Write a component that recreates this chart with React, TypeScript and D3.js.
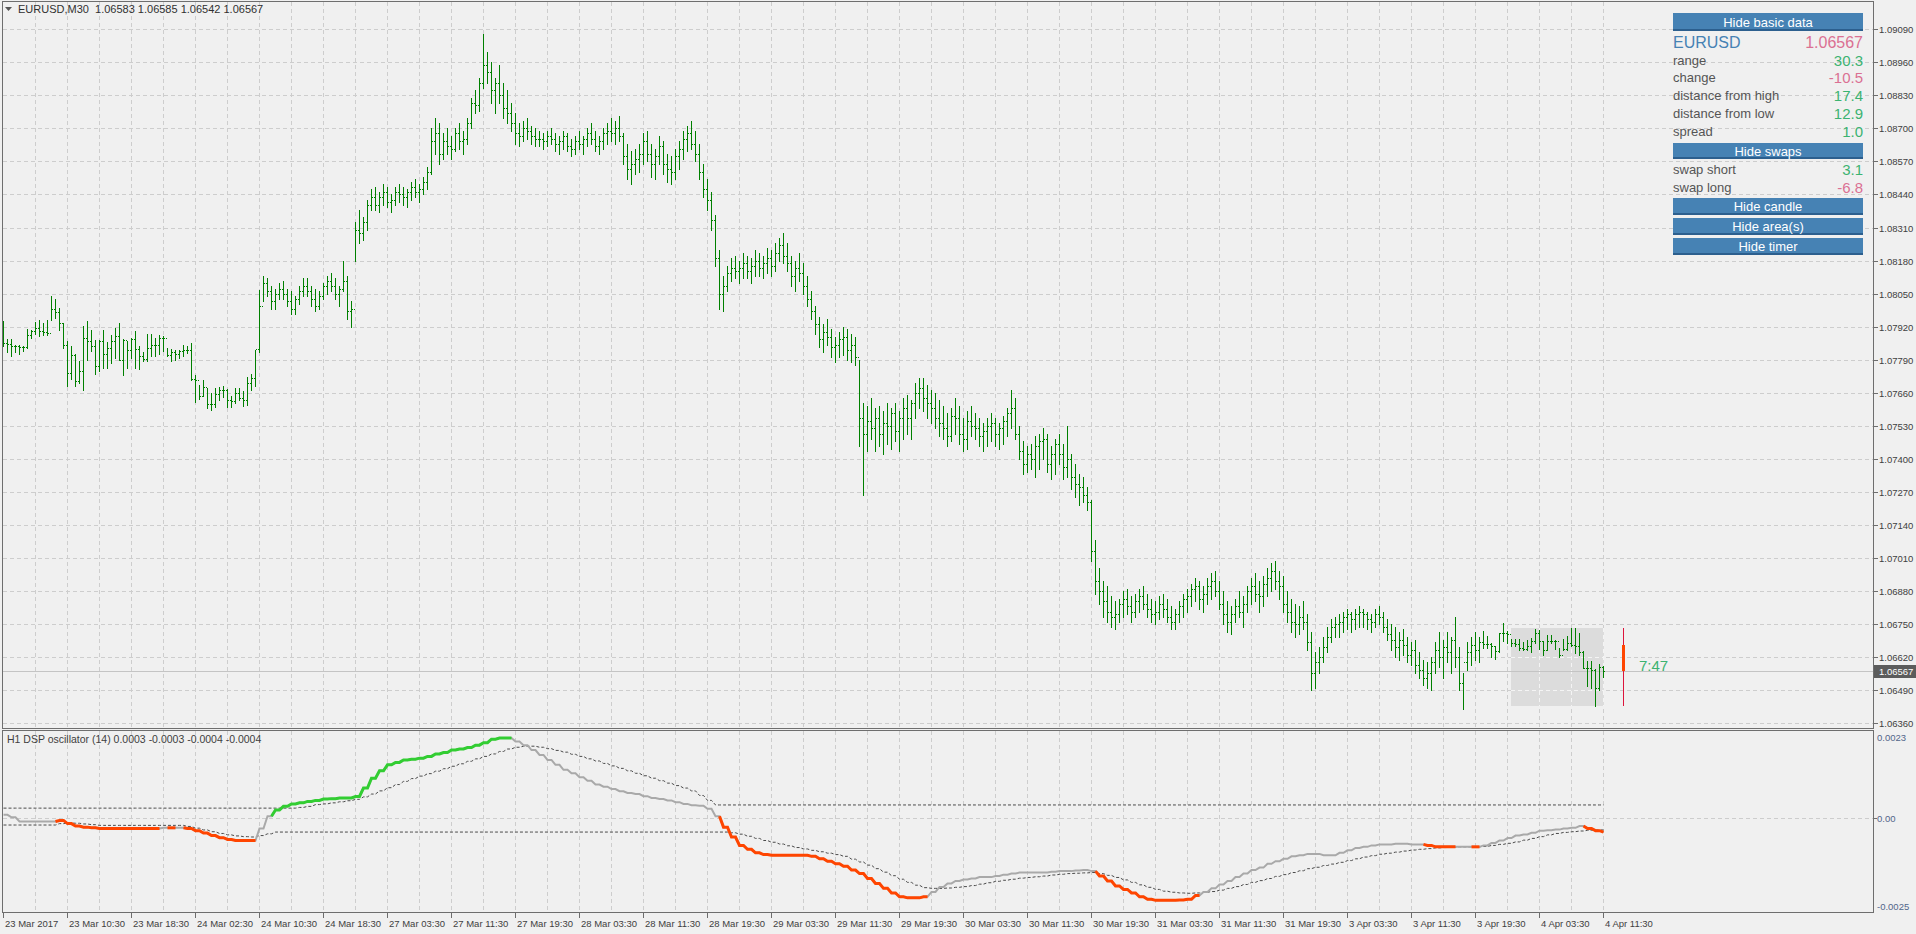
import React from 'react';
import * as d3 from 'd3';

// ---------- DATA ----------
// main chart: EURUSD M30 bars, values in points above 1.06000 (price = 1.06 + v / 100000)
const BASE = 1.06;
const FIRST_OPEN = 1870;
const HIGH = [
  1944,1872,1872,1850,1850,1846,1911,1908,1937,1945,1935,1948,2042,2029,1994,1935,
  1865,1843,1814,1784,1924,1944,1908,1867,1869,1906,1859,1889,1915,1935,1872,1863,
  1876,1902,1843,1819,1893,1891,1876,1889,1885,1836,1833,1827,1830,1850,1843,1856,
  1732,1692,1712,1679,1660,1679,1683,1686,1675,1646,1679,1679,1666,1722,1736,1830,
  2066,2120,2110,2080,2070,2090,2100,2070,2060,2040,2080,2110,2110,2080,2070,2060,
  2090,2120,2130,2110,2080,2180,2120,2020,2330,2380,2350,2420,2460,2470,2450,2480,
  2470,2440,2470,2480,2470,2460,2490,2500,2480,2510,2550,2700,2740,2720,2680,2700,
  2670,2700,2720,2690,2740,2820,2850,2900,3070,3000,2960,2900,2950,2880,2850,2800,
  2760,2720,2730,2740,2710,2700,2690,2680,2690,2700,2680,2670,2690,2680,2660,2670,
  2690,2670,2700,2720,2690,2670,2700,2720,2740,2730,2750,2680,2640,2610,2620,2640,
  2680,2690,2640,2620,2670,2650,2600,2590,2620,2650,2690,2710,2730,2690,2640,2560,
  2500,2450,2360,2220,2120,2160,2190,2200,2180,2210,2200,2190,2220,2210,2200,2230,
  2220,2250,2270,2290,2250,2200,2180,2210,2170,2120,2060,2000,1960,1930,1950,1910,
  1880,1900,1920,1910,1890,1880,1790,1620,1610,1640,1600,1610,1590,1620,1600,1620,
  1590,1640,1650,1630,1700,1720,1720,1690,1670,1660,1630,1610,1580,1600,1640,1610,
  1560,1590,1610,1580,1560,1540,1560,1580,1560,1540,1570,1600,1670,1640,1530,1470,
  1450,1460,1490,1500,1520,1500,1450,1480,1500,1460,1530,1420,1380,1340,1330,1290,
  1240,1080,970,920,900,860,840,850,880,890,860,870,890,900,870,850,
  840,860,870,850,820,810,840,870,890,910,930,920,900,930,950,960,
  920,880,840,820,850,880,860,900,930,950,920,940,970,990,1000,960,
  940,880,850,830,820,840,790,720,640,660,700,740,770,780,790,800,
  810,800,810,820,810,800,790,810,820,800,770,750,740,720,730,700,
  680,690,640,610,600,620,680,720,690,720,700,780,660,560,680,700,
  720,700,723,703,677,664,716,753,723,692,692,692,679,690,696,732,
  726,683,709,706,690,657,692,703,736,736,716,644,605,605,575,592,
  585
];
const LOW = [
  1843,1819,1806,1819,1814,1823,1836,1876,1893,1882,1889,1889,1945,1954,1906,1836,
  1688,1715,1686,1699,1670,1791,1823,1736,1745,1758,1758,1777,1797,1788,1732,1758,
  1797,1758,1754,1784,1784,1804,1806,1814,1823,1806,1784,1791,1797,1806,1817,1712,
  1623,1636,1646,1601,1594,1605,1633,1644,1605,1605,1620,1633,1607,1614,1673,1686,
  1820,2020,2040,1990,1990,2030,2030,2000,1970,1970,2010,2040,2040,2000,1980,1990,
  2030,2050,2060,2030,2000,2060,1950,1920,2180,2250,2260,2300,2380,2380,2370,2400,
  2390,2370,2400,2410,2400,2390,2420,2430,2410,2440,2460,2520,2600,2560,2580,2600,
  2580,2610,2620,2600,2640,2700,2760,2770,2860,2880,2800,2760,2800,2740,2720,2690,
  2640,2630,2650,2660,2640,2630,2630,2620,2630,2640,2610,2600,2620,2610,2590,2600,
  2620,2600,2630,2640,2610,2600,2620,2640,2650,2640,2650,2560,2500,2480,2520,2530,
  2560,2570,2510,2500,2560,2520,2490,2480,2500,2540,2580,2610,2620,2570,2500,2430,
  2380,2300,2160,1990,1980,2060,2100,2110,2090,2110,2110,2090,2120,2120,2110,2130,
  2120,2140,2180,2170,2140,2080,2060,2100,2050,2000,1950,1890,1840,1820,1850,1800,
  1780,1800,1810,1790,1780,1770,1450,1260,1430,1480,1430,1450,1420,1460,1440,1470,
  1430,1480,1500,1480,1560,1600,1590,1560,1540,1520,1490,1480,1450,1470,1500,1460,
  1430,1440,1490,1480,1450,1430,1450,1470,1450,1440,1460,1490,1520,1480,1400,1340,
  1350,1360,1330,1360,1400,1350,1320,1340,1380,1320,1330,1280,1250,1220,1230,1200,
  1000,870,830,780,760,740,730,760,780,790,760,780,800,810,780,760,
  750,770,780,760,730,730,760,780,800,820,840,810,800,830,850,860,
  810,750,720,710,760,780,740,800,830,840,800,820,860,880,890,850,
  800,760,720,700,710,730,650,490,500,560,600,640,680,700,700,720,
  730,720,730,740,740,730,720,740,750,720,690,650,620,610,630,600,
  590,560,540,510,500,490,560,580,540,600,560,580,490,418,570,590,
  610,600,657,657,622,614,640,683,677,664,664,650,650,650,640,677,
  653,631,648,677,653,622,648,650,664,637,631,578,509,500,430,491,
  542
];
const CLOSE = [
  1856,1852,1846,1843,1839,1840,1889,1902,1915,1902,1898,1895,1990,1978,1935,1850,
  1738,1810,1705,1745,1876,1863,1843,1764,1863,1814,1836,1863,1882,1791,1869,1830,
  1872,1833,1804,1793,1836,1850,1850,1876,1876,1810,1819,1814,1823,1827,1827,1715,
  1712,1646,1683,1618,1618,1657,1673,1673,1631,1627,1660,1640,1631,1699,1719,1833,
  2000,2090,2060,2020,2050,2070,2050,2020,1990,2030,2060,2080,2060,2030,2000,2040,
  2080,2100,2080,2050,2070,2100,1980,1990,2300,2290,2330,2400,2430,2400,2430,2450,
  2410,2420,2450,2440,2430,2450,2470,2450,2460,2490,2530,2650,2680,2600,2650,2630,
  2620,2680,2650,2660,2720,2800,2790,2880,2950,2920,2850,2880,2830,2780,2760,2720,
  2680,2670,2700,2690,2670,2660,2660,2650,2670,2660,2640,2650,2670,2630,2620,2650,
  2640,2660,2680,2660,2630,2650,2680,2690,2680,2700,2670,2590,2540,2560,2580,2600,
  2650,2600,2560,2590,2630,2560,2540,2530,2590,2620,2660,2680,2640,2600,2530,2460,
  2420,2340,2190,2050,2080,2130,2150,2140,2150,2170,2140,2160,2180,2150,2170,2190,
  2160,2210,2240,2200,2170,2120,2150,2130,2080,2030,1980,1930,1870,1900,1880,1840,
  1850,1870,1880,1830,1850,1800,1560,1500,1550,1520,1560,1500,1540,1530,1580,1510,
  1560,1600,1560,1620,1660,1680,1640,1620,1600,1560,1540,1520,1490,1570,1560,1500,
  1480,1550,1530,1520,1490,1510,1530,1540,1500,1520,1550,1580,1600,1500,1430,1380,
  1420,1400,1450,1470,1480,1380,1420,1460,1420,1370,1400,1330,1300,1290,1260,1230,
  1040,920,880,840,800,780,790,830,850,820,800,840,860,830,810,790,
  800,830,810,780,760,790,820,850,860,890,900,850,870,900,920,880,
  830,790,760,790,820,800,830,880,900,870,860,910,930,960,920,900,
  830,800,760,750,780,760,680,560,600,620,660,700,740,750,760,780,
  790,770,790,800,790,770,760,790,780,740,710,690,660,690,670,630,
  650,590,570,540,560,600,650,620,660,640,690,620,520,600,640,670,
  650,680,674,674,664,644,716,716,713,677,674,657,653,664,683,716,
  683,650,683,683,683,631,653,677,670,666,640,578,578,572,500,583,
  567
];

const PRICE_TICKS = ['1.09090','1.08960','1.08830','1.08700','1.08570','1.08440','1.08310','1.08180','1.08050','1.07920','1.07790','1.07660','1.07530','1.07400','1.07270','1.07140','1.07010','1.06880','1.06750','1.06620','1.06490','1.06360'];
const TIME_LABELS = ['23 Mar 2017','23 Mar 10:30','23 Mar 18:30','24 Mar 02:30','24 Mar 10:30','24 Mar 18:30','27 Mar 03:30','27 Mar 11:30','27 Mar 19:30','28 Mar 03:30','28 Mar 11:30','28 Mar 19:30','29 Mar 03:30','29 Mar 11:30','29 Mar 19:30','30 Mar 03:30','30 Mar 11:30','30 Mar 19:30','31 Mar 03:30','31 Mar 11:30','31 Mar 19:30','3 Apr 03:30','3 Apr 11:30','3 Apr 19:30','4 Apr 03:30','4 Apr 11:30'];
const LAST_PRICE = '1.06567';

// H1 DSP oscillator (one value per H1 bar = 2 M30 bars), in units of 0.00001
const OSC = [
  9,2,-10,-10,-10,-10,-10,-7,-16,-23,
  -26,-28,-30,-30,-30,-30,-30,-30,-30,-30,
  -28,-28,-28,-30,-36,-43,-50,-56,-61,-64,
  -64,-64,-30,5,23,33,40,43,47,50,
  54,55,57,57,61,85,113,134,151,158,
  165,167,170,175,182,186,193,196,200,207,
  214,224,227,227,217,207,193,179,165,151,
  137,127,116,106,95,89,82,76,71,68,
  62,57,54,50,45,40,36,35,26,5,
  -26,-54,-78,-89,-99,-104,-106,-106,-106,-106,
  -106,-109,-116,-123,-130,-137,-148,-158,-172,-186,
  -200,-213,-224,-227,-227,-224,-210,-196,-186,-179,
  -175,-172,-168,-168,-165,-161,-158,-155,-155,-155,
  -155,-153,-151,-151,-149,-148,-151,-165,-179,-193,
  -203,-213,-224,-231,-234,-234,-234,-233,-231,-220,
  -210,-200,-189,-179,-168,-158,-148,-141,-130,-123,
  -116,-109,-106,-102,-102,-106,-106,-99,-92,-85,
  -82,-78,-75,-75,-73,-73,-75,-75,-78,-82,
  -82,-82,-82,-82,-82,-78,-71,-64,-57,-50,
  -47,-42,-36,-35,-33,-30,-28,-23,-30,-36,
  -40
];
const LEVEL_UP = [
  28,28,28,28,28,28,28,28,28,28,
  28,28,28,28,28,28,28,28,28,28,
  28,28,28,28,28,28,28,28,28,28,
  28,28,28,28,28,28,28,30,33,38,
  40,43,46,49,53,60,68,77,86,95,
  104,112,119,126,133,140,147,154,161,168,
  175,182,189,196,201,204,204,201,197,192,
  187,181,175,168,162,155,148,141,134,127,
  120,113,106,99,92,85,77,64,50,37,
  37,37,37,37,37,37,37,37,37,37,
  37,37,37,37,37,37,37,37,37,37,
  37,37,37,37,37,37,37,37,37,37,
  37,37,37,37,37,37,37,37,37,37,
  37,37,37,37,37,37,37,37,37,37,
  37,37,37,37,37,37,37,37,37,37,
  37,37,37,37,37,37,37,37,37,37,
  37,37,37,37,37,37,37,37,37,37,
  37,37,37,37,37,37,37,37,37,37,
  37,37,37,37,37,37,37,37,37,37,
  37,37,37,37,37,37,37,37,37,37,
  37
];
const LEVEL_DN = [
  -20,-20,-20,-20,-20,-20,-20,-16,-14,-15,
  -17,-19,-21,-21,-21,-21,-21,-21,-21,-21,
  -21,-21,-21,-24,-29,-34,-39,-44,-48,-51,
  -53,-54,-50,-45,-40,-40,-40,-40,-40,-40,
  -40,-40,-40,-40,-40,-40,-40,-40,-40,-40,
  -40,-40,-40,-40,-40,-40,-40,-40,-40,-40,
  -40,-40,-40,-40,-40,-40,-40,-40,-40,-40,
  -40,-40,-40,-40,-40,-40,-40,-40,-40,-40,
  -40,-40,-40,-40,-40,-40,-40,-40,-40,-40,
  -40,-42,-46,-52,-58,-64,-69,-74,-79,-84,
  -88,-92,-96,-100,-104,-109,-117,-125,-134,-144,
  -154,-164,-174,-183,-191,-198,-200,-200,-199,-197,
  -195,-192,-188,-184,-180,-177,-174,-171,-169,-167,
  -165,-162,-160,-158,-157,-156,-155,-158,-163,-169,
  -176,-183,-190,-197,-203,-208,-211,-213,-214,-213,
  -211,-209,-205,-200,-195,-189,-183,-178,-172,-166,
  -161,-155,-150,-144,-140,-135,-131,-126,-121,-116,
  -111,-107,-103,-100,-97,-94,-91,-89,-87,-85,
  -84,-83,-82,-82,-82,-81,-78,-75,-72,-68,
  -63,-58,-53,-48,-44,-41,-39,-37,-35,-34,
  -34
];
// colour runs of the oscillator line: [firstH1, lastH1, state] 0 = neutral, 1 = up, 2 = down
const OSC_COLOR_RUNS = [
  [0,6,0],[7,19,2],[20,20,0],[21,21,2],[22,22,0],[23,31,2],[32,33,0],[34,63,1],[64,89,0],
  [90,115,2],[116,136,0],[137,149,2],[150,177,0],[178,181,2],[182,183,0],[184,184,2],[185,197,0],[198,200,2]
];

const INFO_ROWS = [
  { label: 'range', value: '30.3', up: true },
  { label: 'change', value: '-10.5', up: false },
  { label: 'distance from high', value: '17.4', up: true },
  { label: 'distance from low', value: '12.9', up: true },
  { label: 'spread', value: '1.0', up: true },
];
const SWAP_ROWS = [
  { label: 'swap short', value: '3.1', up: true },
  { label: 'swap long', value: '-6.8', up: false },
];
const AREA_START = 377; // first bar of the shaded day range
const CANDLE_START = 393; // first bar of the higher-timeframe candle
const TIMER = '7:47';

// ---------- STYLE ----------
const BG = '#f0f0f0';
const FRAME = '#6e6e6e';
const GRID = '#cdcdcd';
const AXIS_TXT = '#404040';
const FONT = '"Liberation Sans", Arial, sans-serif';
const UP = '#3cb371';
const DOWN = '#db7093';
const STEEL = '#4682b4';

export default function App() {
  const N = HIGH.length;
  const xs = d3.scaleLinear().domain([0, 400]).range([3, 1603]);
  const yP = d3.scaleLinear().domain([1.06342, 1.09197]).range([728, 2]);
  const yO = d3.scaleLinear().domain([-0.0027, 0.0025]).range([913, 730]);
  const price = (v: number) => BASE + v / 1e5;
  const py = (v: number) => Math.round(yP(price(v)));

  let bars = '';
  for (let i = 0; i < N; i++) {
    const xi = Math.round(xs(i));
    const o = i === 0 ? FIRST_OPEN : CLOSE[i - 1];
    bars += `M${xi + 0.5},${py(HIGH[i])}V${py(LOW[i]) + 1}M${xi - 1},${py(o) + 0.5}h1M${xi + 1},${py(CLOSE[i]) + 0.5}h1`;
  }

  const gridX = d3.range(8, 401, 8).map((k) => Math.round(xs(k)) + 0.5);
  const line = d3.line();
  const mk = (arr: number[]) => d3.range(0, N).map((i) => [Math.round(xs(i)) + 0.5, yO(arr[Math.floor(i / 2)] / 1e5)] as [number, number]);
  const oscPts = mk(OSC);
  const upPts = mk(LEVEL_UP);
  const dnPts = mk(LEVEL_DN);
  const segs = OSC_COLOR_RUNS.filter((r) => r[2] !== 0).map(([a, b, s]) => ({
    d: line(oscPts.slice(Math.max(0, 2 * a - 1), Math.min(N, 2 * b + 2))) as string,
    c: s === 1 ? '#32cd32' : '#ff4500',
  }));

  const areaHi = d3.max(HIGH.slice(AREA_START)) as number;
  const areaLo = d3.min(LOW.slice(AREA_START)) as number;
  const ax0 = Math.round(xs(AREA_START));
  const ax1 = Math.round(xs(N - 1)) + 1;
  const ay0 = py(areaHi), ay1 = py(areaLo);

  const cOpen = CLOSE[CANDLE_START - 1];
  const cHi = d3.max(HIGH.slice(CANDLE_START)) as number;
  const cLo = d3.min(LOW.slice(CANDLE_START)) as number;
  const cClose = CLOSE[N - 1];
  const cx = Math.round(xs(405));

  const lastY = Math.round(yP(+LAST_PRICE));
  const lenOk = HIGH.length === 401 && LOW.length === 401 && CLOSE.length === 401 && OSC.length === 201 && LEVEL_UP.length === 201 && LEVEL_DN.length === 201;

  const btn = (yy: number, h: number, text: string) => (
    <g key={text}>
      <rect x={1673} y={yy} width={190} height={h} fill={STEEL} />
      <rect x={1673} y={yy + h - 2} width={190} height={2} fill="#2c5f8e" />
      <text x={1768} y={yy + h / 2} fill="#ffffff" fontSize={13} textAnchor="middle" dominantBaseline="central">{text}</text>
    </g>
  );

  return (
    <svg width={1916} height={934} style={{ position: 'fixed', left: 0, top: 0, background: BG }} fontFamily={FONT}>
      <rect x={0} y={0} width={1916} height={934} fill={BG} />
      {/* main grid */}
      <g stroke={GRID} strokeDasharray="4,3" shapeRendering="crispEdges">
        {gridX.map((gx) => <line key={'v' + gx} x1={gx} x2={gx} y1={2} y2={728} />)}
        {gridX.map((gx) => <line key={'vo' + gx} x1={gx} x2={gx} y1={731} y2={912} />)}
        {PRICE_TICKS.map((t) => { const yy = Math.round(yP(+t)) + 0.5; return <line key={t} x1={3} x2={1873} y1={yy} y2={yy} />; })}
        <line x1={3} x2={1873} y1={Math.round(yO(0)) + 0.5} y2={Math.round(yO(0)) + 0.5} />
      </g>
      {/* day area */}
      <rect x={ax0} y={ay0} width={ax1 - ax0} height={ay1 - ay0} fill="#dcdcdc" />
      <g stroke="#f4f4f4" strokeDasharray="4,3" shapeRendering="crispEdges">
        {gridX.filter((gx) => gx > ax0 && gx < ax1).map((gx) => <line key={'a' + gx} x1={gx} x2={gx} y1={ay0} y2={ay1} />)}
        {PRICE_TICKS.filter((t) => yP(+t) > ay0 && yP(+t) < ay1).map((t) => { const yy = Math.round(yP(+t)) + 0.5; return <line key={'a' + t} x1={ax0} x2={ax1} y1={yy} y2={yy} />; })}
      </g>
      {/* bid line */}
      <line x1={3} x2={1873} y1={lastY + 0.5} y2={lastY + 0.5} stroke="#c4c4c4" shapeRendering="crispEdges" />
      {/* bars */}
      <path d={bars} stroke="#008000" strokeWidth={1} fill="none" shapeRendering="crispEdges" />
      {/* higher timeframe candle */}
      <line x1={cx + 0.5} x2={cx + 0.5} y1={py(cHi)} y2={py(cLo)} stroke="#dc143c" shapeRendering="crispEdges" />
      <rect x={cx - 1} y={py(cOpen)} width={3} height={py(cClose) - py(cOpen)} fill="#ff4500" />
      <text x={1639} y={665} fontSize={15} fill={UP} dominantBaseline="central">{TIMER}</text>

      {/* frames */}
      <rect x={2.5} y={1.5} width={1871} height={727} fill="none" stroke={FRAME} shapeRendering="crispEdges" />
      <rect x={2.5} y={730.5} width={1871} height={182} fill="none" stroke={FRAME} shapeRendering="crispEdges" />

      {/* price axis */}
      {PRICE_TICKS.map((t) => {
        const yy = Math.round(yP(+t));
        return (
          <g key={'l' + t}>
            <line x1={1874} x2={1878} y1={yy + 0.5} y2={yy + 0.5} stroke={FRAME} shapeRendering="crispEdges" />
            <text x={1879} y={yy} fontSize={9.5} fill={AXIS_TXT} dominantBaseline="central">{t}</text>
          </g>
        );
      })}
      <rect x={1874} y={lastY - 6} width={42} height={13} fill="#5c5c5c" />
      <text x={1879} y={lastY + 0.5} fontSize={9.5} fill="#ffffff" dominantBaseline="central">{LAST_PRICE}</text>

      {/* oscillator */}
      <path d={line(upPts) as string} stroke="#4a4a4a" strokeDasharray="3,2" fill="none" />
      <path d={line(dnPts) as string} stroke="#4a4a4a" strokeDasharray="3,2" fill="none" />
      <path d={line(oscPts) as string} stroke="#a9a9a9" strokeWidth={2} fill="none" />
      {segs.map((s, k) => <path key={k} d={s.d} stroke={s.c} strokeWidth={3} fill="none" />)}
      <text x={1877} y={737} fontSize={9.5} fill="#52658a" dominantBaseline="central">0.0023</text>
      <text x={1877} y={818} fontSize={9.5} fill="#52658a" dominantBaseline="central">0.00</text>
      <text x={1877} y={906} fontSize={9.5} fill="#52658a" dominantBaseline="central">-0.0025</text>
      <line x1={1874} x2={1877} y1={818.5} y2={818.5} stroke={FRAME} />

      {/* time axis */}
      {TIME_LABELS.map((t, k) => {
        const tx = Math.round(xs(k * 16));
        return (
          <g key={t}>
            <line x1={tx + 0.5} x2={tx + 0.5} y1={913} y2={918} stroke={FRAME} shapeRendering="crispEdges" />
            <text x={tx + 2} y={923} fontSize={9.5} fill={AXIS_TXT} dominantBaseline="central">{t}</text>
          </g>
        );
      })}

      {/* titles */}
      <path d="M5,7h7l-3.5,4z" fill="#555" />
      <text x={18} y={9} fontSize={11} fill="#303030" dominantBaseline="central" style={{ whiteSpace: 'pre' }}>{'EURUSD,M30  1.06583 1.06585 1.06542 1.06567'}</text>
      <text x={7} y={739} fontSize={10.5} fill="#404040" dominantBaseline="central">H1 DSP oscillator (14) 0.0003 -0.0003 -0.0004 -0.0004</text>

      {/* info panel */}
      {btn(13, 18, 'Hide basic data')}
      <text x={1673} y={42} fontSize={16} fill={STEEL} dominantBaseline="central">EURUSD</text>
      <text x={1863} y={42} fontSize={16} fill={DOWN} textAnchor="end" dominantBaseline="central">{LAST_PRICE}</text>
      {INFO_ROWS.map((r, k) => (
        <g key={r.label}>
          <text x={1673} y={60 + k * 17.8} fontSize={13} fill="#555" dominantBaseline="central">{r.label}</text>
          <text x={1863} y={60 + k * 17.8} fontSize={15} fill={r.up ? UP : DOWN} textAnchor="end" dominantBaseline="central">{r.value}</text>
        </g>
      ))}
      {btn(143, 16, 'Hide swaps')}
      {SWAP_ROWS.map((r, k) => (
        <g key={r.label}>
          <text x={1673} y={169 + k * 18} fontSize={13} fill="#555" dominantBaseline="central">{r.label}</text>
          <text x={1863} y={169 + k * 18} fontSize={15} fill={r.up ? UP : DOWN} textAnchor="end" dominantBaseline="central">{r.value}</text>
        </g>
      ))}
      {btn(198, 17, 'Hide candle')}
      {btn(218, 17, 'Hide area(s)')}
      {btn(238, 17, 'Hide timer')}
      {!lenOk && <text x={600} y={400} fill="red" fontSize={30}>{`LEN ${HIGH.length} ${LOW.length} ${CLOSE.length} ${OSC.length} ${LEVEL_UP.length} ${LEVEL_DN.length}`}</text>}
    </svg>
  );
}
